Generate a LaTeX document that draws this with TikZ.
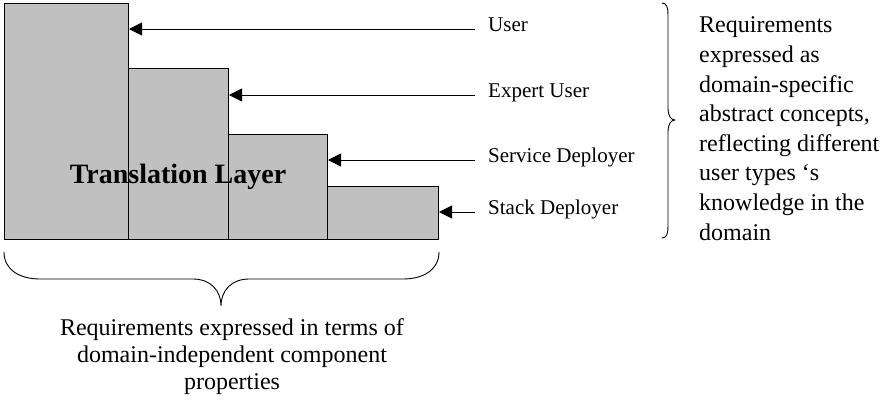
\documentclass[tikz,border=0pt]{standalone}
\usepackage{fontspec}
\setmainfont{Liberation Serif}
\usetikzlibrary{arrows.meta}
\definecolor{boxgray}{RGB}{192,192,192}
\tikzset{
  layerbox/.style={draw=black, line width=1pt, fill=boxgray, inner sep=0pt, anchor=north west},
  arr/.style={line width=0.9pt, -{Triangle[length=13pt,width=13pt]}},
  lab/.style={anchor=base west, inner sep=0pt, font=\fontsize{21}{25}\selectfont},
  brace/.style={line width=0.9pt, line join=round},
  desc/.style={inner sep=0pt, font=\fontsize{24}{29.6}\selectfont}
}
\begin{document}
\begin{tikzpicture}[x=1pt,y=-1pt]
\useasboundingbox (0,0) rectangle (886,400);
% boxes
\node[layerbox, minimum width=124pt, minimum height=236pt] (r1) at (4,3) {};
\node[layerbox, minimum width=100pt, minimum height=171pt] (r2) at (128,68) {};
\node[layerbox, minimum width=99pt, minimum height=105pt] (r3) at (228,134) {};
\node[layerbox, minimum width=111pt, minimum height=53pt] (r4) at (327,186) {};
\node[anchor=base, inner sep=0pt, font=\fontsize{28}{32}\selectfont\bfseries] (title) at (178,183) {Translation Layer};
% labels
\node[lab] (lu) at (488,31) {User};
\node[lab] (le) at (488,97) {Expert User};
\node[lab] (ls) at (488,162) {Service Deployer};
\node[lab] (lk) at (488,214) {Stack Deployer};
\coordinate (cu) at (475,29);
\coordinate (ce) at (475,95);
\coordinate (cs) at (475,160);
\coordinate (ck) at (475,212);
\draw[arr] (cu) -- (cu -| r1.east);
\draw[arr] (ce) -- (ce -| r2.east);
\draw[arr] (cs) -- (cs -| r3.east);
\draw[arr] (ck) -- (ck -| r4.east);
% right brace
\draw[brace] (662,3) .. controls (667,3) and (668,8) .. (668,15) -- (668,108)
  .. controls (668,116) and (671,120) .. (675,120)
  .. controls (671,120) and (668,124) .. (668,132) -- (668,226)
  .. controls (668,233) and (667,238) .. (662,238);
% bottom brace
\draw[brace] (4,252) .. controls (4,270) and (20,279) .. (40,279) -- (193,279)
  .. controls (210,279) and (221,290) .. (221,306)
  .. controls (221,290) and (232,279) .. (249,279) -- (403,279)
  .. controls (423,279) and (439,270) .. (439,252);
% descriptions
\node[desc, anchor=base west, align=left] (dr) at (699,240) {Requirements\\expressed as\\domain-specific\\abstract concepts,\\reflecting different\\user types ‘s\\knowledge in the\\domain};
\node[desc, anchor=base, align=center, font=\fontsize{24}{27}\selectfont] (db) at (232,389) {Requirements expressed in terms of\\domain-independent component\\properties};
\end{tikzpicture}
\end{document}
